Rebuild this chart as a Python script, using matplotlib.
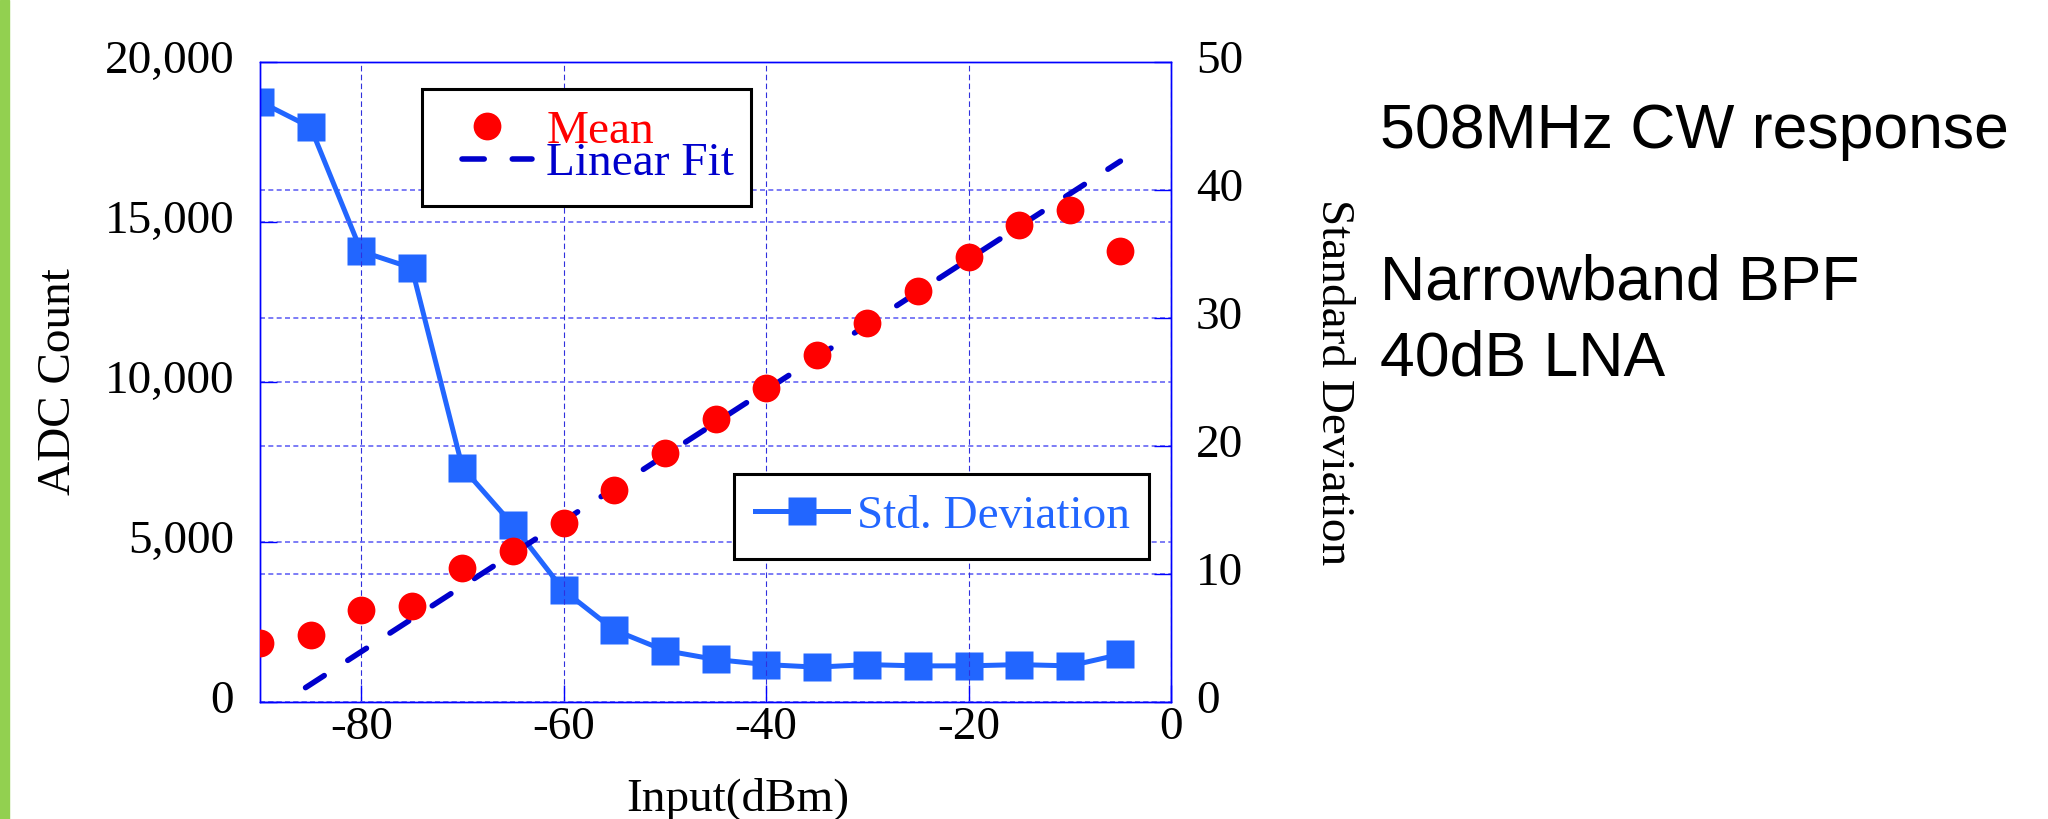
import matplotlib
matplotlib.use("Agg")
import matplotlib.pyplot as plt
from matplotlib.patches import Rectangle
from matplotlib.ticker import StrMethodFormatter
from matplotlib.legend_handler import HandlerLine2D

plt.rcParams["font.family"] = ["Liberation Serif", "DejaVu Serif"]
plt.rcParams["axes.unicode_minus"] = False

input_dbm = [-90, -85, -80, -75, -70, -65, -60, -55, -50,
             -45, -40, -35, -30, -25, -20, -15, -10, -5]
mean_adc = [1830, 2070, 2880, 3000, 4170, 4700, 5600, 6610, 7790,
            8850, 9810, 10830, 11840, 12850, 13900, 14910, 15380, 14080]
std_dev = [46.9, 44.9, 35.2, 33.9, 18.3, 13.8, 8.7, 5.6, 4.0,
           3.3, 2.9, 2.7, 2.9, 2.8, 2.8, 2.9, 2.8, 3.7]
fit_x = [-85.5, -5]
fit_y = [440, 16900]

x_ticks = [-80, -60, -40, -20, 0]
adc_ticks = [0, 5000, 10000, 15000, 20000]
std_ticks = [0, 10, 20, 30, 40, 50]

red = "#ff0000"
fit_blue = "#0000cc"
std_blue = "#2266ff"
axis_blue = "#0000ff"
fs = 34

fig = plt.figure(figsize=(20.48, 8.19), dpi=100)
fig.patches.append(Rectangle((0, 0), 9 / 2048, 1, transform=fig.transFigure,
                             color="#92d050", zorder=0))

ax = fig.add_axes([260 / 2048, 117.3 / 819, 911 / 2048, 639.7 / 819])
ax2 = ax.twinx()
ax.set_zorder(ax2.get_zorder() + 1)
ax.patch.set_visible(False)

# grid
hgrid = dict(color="#6666f5", lw=1.2, linestyle=(0, (3, 2)))
ax.xaxis.grid(True, color="#3030dd", lw=0.8, linestyle=(0, (5, 3)))
ax.yaxis.grid(True, **hgrid)
ax2.yaxis.grid(True, **hgrid)
ax2.xaxis.grid(False)

std_line, = ax2.plot(input_dbm, std_dev, "-s", color=std_blue, lw=3.6,
                     ms=20, mec="none", label="Std. Deviation")
fit_line, = ax.plot(fit_x, fit_y, color=fit_blue, lw=4, dashes=(4.0, 5.05),
                    dash_capstyle="round", label="Linear Fit", zorder=3)
mean_line, = ax.plot(input_dbm, mean_adc, "o", color=red, ms=20, mec="none",
                     label="Mean", zorder=4)

ax.set_xlim(-90, 0)
ax.set_ylim(0, 20000)
ax2.set_ylim(0, 50)
ax.set_xticks(x_ticks)
ax.set_yticks(adc_ticks)
ax2.set_yticks(std_ticks)
ax.yaxis.set_major_formatter(StrMethodFormatter("{x:,.0f}"))

for a in (ax, ax2):
    for sp in a.spines.values():
        sp.set_color(axis_blue)
        sp.set_linewidth(1.0)

ax.tick_params(axis="both", direction="in", length=12, width=1,
               color=axis_blue, labelsize=fs, top=False, right=False)
ax.tick_params(axis="y", pad=18.7)
ax.tick_params(axis="x", pad=3.6)
ax2.tick_params(axis="y", direction="in", length=12, width=1,
                color=axis_blue, labelsize=fs, pad=18)

for lab in ax.get_yticklabels() + ax2.get_yticklabels():
    lab.set_verticalalignment("center")

ax.set_ylabel("ADC Count", fontsize=fs)
ax.yaxis.set_label_coords(-0.1976, 0.5)
ax.set_xlabel("Input(dBm)", fontsize=fs)
ax.xaxis.set_label_coords(0.525, -0.119)
ax2.set_ylabel("Standard Deviation", fontsize=fs, rotation=270, va="bottom")
ax2.yaxis.set_label_coords(1.155, 0.5)

# legends
leg1 = ax.legend(handles=[mean_line, fit_line], loc="upper left",
                 bbox_to_anchor=(0.1778, 0.7749, 0.3611, 0.1829), mode="expand",
                 borderaxespad=0, borderpad=0.44, labelspacing=-0.22,
                 handlelength=1.89, handletextpad=0.3, fontsize=fs,
                 fancybox=False, framealpha=1, edgecolor="black",
                 labelcolor="linecolor",
                 handler_map={fit_line: HandlerLine2D(xpad=0.41)})
leg1.get_frame().set_linewidth(2.2)
ax.add_artist(leg1)

leg2 = ax.legend(handles=[std_line], loc="upper left",
                 bbox_to_anchor=(0.5203, 0.2246, 0.4555, 0.1314), mode="expand",
                 borderaxespad=0, borderpad=0.44, handlelength=1.98,
                 handletextpad=0.19, fontsize=fs, fancybox=False, framealpha=1,
                 edgecolor="black", labelcolor="linecolor")
leg2.get_frame().set_linewidth(2.2)

# notes on the right
note = dict(fontsize=45, family=["Liberation Sans", "DejaVu Sans"], va="baseline")
fig.text(1380 / 2048, 1 - 148 / 819, "508MHz CW response", **note)
fig.text(1380 / 2048, 1 - 300 / 819, "Narrowband BPF", **note)
fig.text(1380 / 2048, 1 - 376 / 819, "40dB LNA", **note)

fig.savefig("out.png", dpi=100)
plt.close()
